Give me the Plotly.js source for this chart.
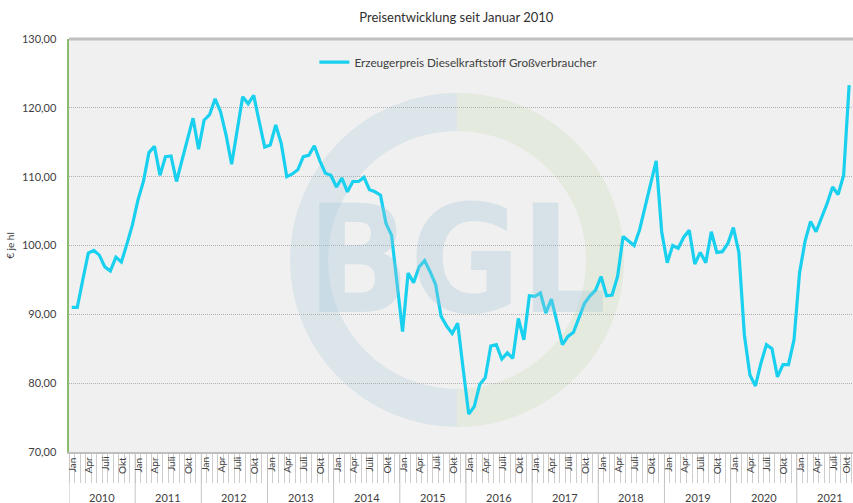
<!DOCTYPE html>
<html>
<head>
<meta charset="utf-8">
<script src="https://cdn.plot.ly/plotly-3.0.1.min.js"></script>
<style>html,body{margin:0;padding:0;background:#fff}#chart{width:853px;height:503px}</style>
</head>
<body>
<div id="chart"></div>
<script>
// ---- data (Erzeugerpreis Dieselkraftstoff Großverbraucher, € je hl, monthly) ----
const years = ['2010','2011','2012','2013','2014','2015','2016','2017','2018','2019','2020','2021'];
const monthLabels = ['Jan','','','Apr','','','Juli','','','Okt','',''];
const p2010 = [91.0, 91.0, 95.0, 98.9, 99.3, 98.6, 96.9, 96.3, 98.3, 97.6, 100.2, 103.0];
const p2011 = [106.6, 109.3, 113.5, 114.4, 110.2, 112.9, 113.0, 109.3, 112.4, 115.6, 118.5, 114.0];
const p2012 = [118.2, 119.0, 121.3, 119.4, 116.0, 111.8, 116.5, 121.6, 120.6, 121.8, 118.0, 114.3];
const p2013 = [114.6, 117.5, 114.8, 110.0, 110.4, 111.0, 112.9, 113.1, 114.5, 112.3, 110.5, 110.2];
const p2014 = [108.5, 109.8, 107.8, 109.3, 109.3, 109.9, 108.1, 107.8, 107.3, 103.2, 101.5, 94.5];
const p2015 = [87.5, 96.0, 94.6, 96.9, 97.8, 96.2, 94.3, 89.7, 88.3, 87.2, 88.7, 82.0];
const p2016 = [75.5, 76.6, 79.8, 80.8, 85.4, 85.6, 83.5, 84.4, 83.6, 89.4, 86.3, 92.7];
const p2017 = [92.6, 93.1, 90.2, 92.2, 88.9, 85.6, 86.8, 87.4, 89.5, 91.6, 92.7, 93.5];
const p2018 = [95.5, 92.7, 92.8, 95.5, 101.3, 100.6, 100.0, 102.3, 105.6, 109.0, 112.3, 102.0];
const p2019 = [97.5, 100.0, 99.6, 101.2, 102.2, 97.3, 99.0, 97.5, 102.0, 99.0, 99.1, 100.3];
const p2020 = [102.6, 99.0, 87.0, 81.2, 79.6, 82.9, 85.6, 85.0, 80.9, 82.7, 82.7, 86.3];
const p2021 = [96.0, 100.6, 103.5, 102.0, 104.0, 106.1, 108.5, 107.4, 110.2, 123.3];
const seriesName = 'Erzeugerpreis Dieselkraftstoff Großverbraucher';
const yTicks = [70, 80, 90, 100, 110, 120, 130];

// ---- build ----
const prices = [].concat(p2010,p2011,p2012,p2013,p2014,p2015,p2016,p2017,p2018,p2019,p2020,p2021);
const xIdx = prices.map((_, i) => i);
const boundaries = [];
for (let i = 0; i <= years.length * 12; i++) boundaries.push(i - 0.5);

const textCol = '#404040';
const font = 'Lato, "Open Sans", sans-serif';
const annotations = [];
const shapes = [];
const xMax = 141.7;

// month labels
for (let i = 0; i < prices.length; i++) {
  const lab = monthLabels[i % 12];
  if (!lab) continue;
  const nearEdge = i + 0.5 > xMax - 0.6;
  annotations.push({
    xref: 'x', yref: 'paper', x: nearEdge ? xMax : i, y: 0, yshift: -3,
    text: lab, textangle: -90, showarrow: false,
    xanchor: nearEdge ? 'right' : 'center', yanchor: 'top',
    font: {family: font, size: 10, color: textCol}
  });
}
// year labels & separators
years.forEach((yr, k) => {
  annotations.push({
    xref: 'x', yref: 'paper', x: k * 12 + 5.5, y: 0, yshift: -45,
    text: yr, showarrow: false, xanchor: 'center', yanchor: 'middle',
    font: {family: font, size: 11, color: textCol}
  });
  shapes.push({
    type: 'line', xref: 'x', yref: 'paper', x0: k * 12 - 0.5, x1: k * 12 - 0.5,
    y0: 0, y1: -0.14, line: {color: '#c4c4c4', width: 1}, layer: 'above'
  });
});

// watermark (BGL logo approximation)
const r = 148, kk = 81.7;
shapes.push({
  type: 'path', xref: 'paper', yref: 'paper', xsizemode: 'pixel', ysizemode: 'pixel',
  xanchor: 0.495, yanchor: 0.465,
  path: `M 0,${r} C ${-kk},${r} ${-r},${kk} ${-r},0 C ${-r},${-kk} ${-kk},${-r} 0,${-r}`,
  line: {color: 'rgba(175,205,222,0.32)', width: 38}, layer: 'below'
});
shapes.push({
  type: 'path', xref: 'paper', yref: 'paper', xsizemode: 'pixel', ysizemode: 'pixel',
  xanchor: 0.495, yanchor: 0.465,
  path: `M 0,${r} C ${kk},${r} ${r},${kk} ${r},0 C ${r},${-kk} ${kk},${-r} 0,${-r}`,
  line: {color: 'rgba(205,222,185,0.32)', width: 38}, layer: 'below'
});
annotations.push({
  xref: 'paper', yref: 'paper', x: 0.495, y: 0.465, text: '<b>BGL</b>', showarrow: false,
  xanchor: 'center', yanchor: 'middle',
  font: {family: '"Liberation Sans Narrow", "DejaVu Sans Condensed", sans-serif', size: 150, color: 'rgba(160,195,215,0.3)'}
});

// top border
shapes.push({
  type: 'line', xref: 'paper', yref: 'paper', x0: 0, x1: 1, y0: 1, y1: 1,
  line: {color: '#c0c0c0', width: 3}, layer: 'above'
});

const trace = {
  x: xIdx, y: prices, type: 'scatter', mode: 'lines', name: seriesName,
  line: {color: '#19d0ef', width: 3.2, shape: 'linear'},
  hoverinfo: 'skip'
};

const layout = {
  width: 853, height: 503,
  margin: {l: 69, r: 0, t: 39, b: 51},
  paper_bgcolor: '#ffffff', plot_bgcolor: '#f0f0f0',
  separators: ',.',
  title: {text: 'Preisentwicklung seit Januar 2010', xref: 'container', x: 0.535, xanchor: 'center',
          yref: 'container', y: 0.966, yanchor: 'middle',
          font: {family: font, size: 13, color: '#303030'}},
  showlegend: true,
  legend: {x: 0.313, y: 0.944, xanchor: 'left', yanchor: 'middle', bgcolor: 'rgba(0,0,0,0)',
           font: {family: font, size: 11.7, color: textCol}},
  xaxis: {
    range: [-0.5, xMax], showgrid: false, zeroline: false,
    tickmode: 'array', tickvals: boundaries, ticktext: boundaries.map(() => ''),
    ticks: 'outside', ticklen: 29, tickcolor: '#cdcdcd', tickwidth: 1,
    showline: true, linecolor: '#bfbfbf', linewidth: 2, fixedrange: true
  },
  yaxis: {
    range: [70, 130], tickmode: 'array', tickvals: yTicks, tickformat: '.2f',
    showgrid: true, gridcolor: '#b0b0b0', griddash: '1px,1px', gridwidth: 1,
    zeroline: false, ticks: '', ticklabelstandoff: 8,
    showline: true, linecolor: '#8cbb6c', linewidth: 2.5,
    tickfont: {family: font, size: 11, color: textCol},
    title: {text: '€ je hl', font: {family: font, size: 10, color: textCol}, standoff: 6},
    fixedrange: true
  },
  annotations: annotations,
  shapes: shapes
};

Plotly.newPlot('chart', [trace], layout, {staticPlot: true, displayModeBar: false});
</script>
</body>
</html>
